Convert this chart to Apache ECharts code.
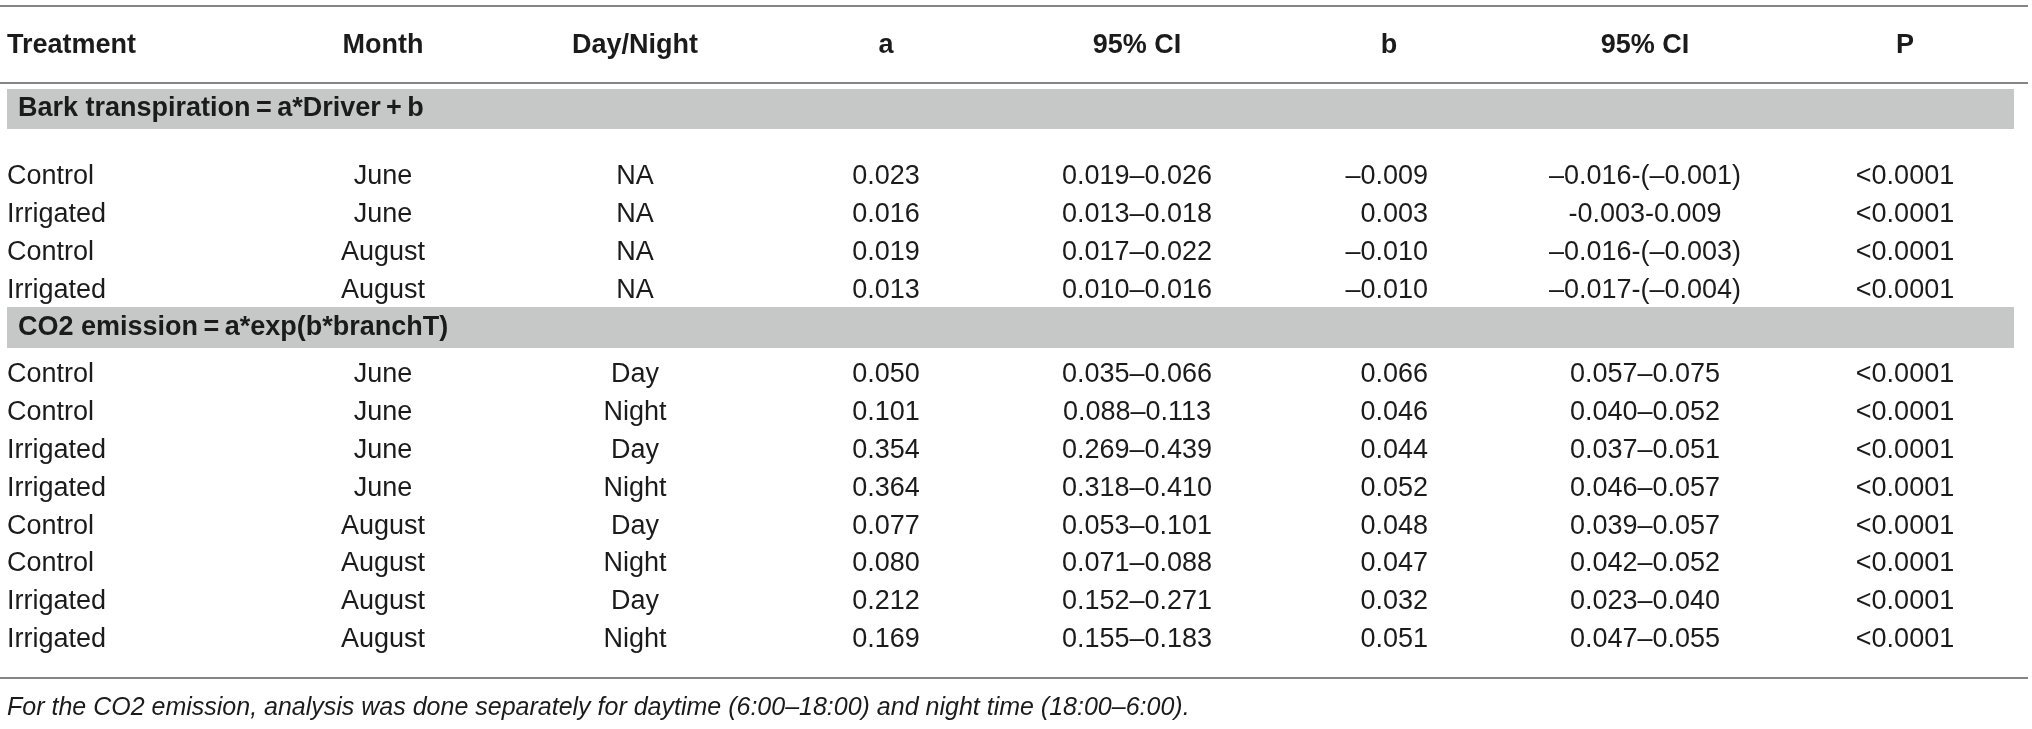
<!DOCTYPE html>
<html><head><meta charset="utf-8">
<script src="https://cdn.jsdelivr.net/npm/echarts@6/dist/echarts.min.js"></script>
<style>html,body{margin:0;padding:0;background:#fff}#c{width:2032px;height:729px}</style>
</head><body><div id="c"></div>
<script>
// ---- data ----
const headers = ['Treatment', 'Month', 'Day/Night', 'a', '95% CI', 'b', '95% CI', 'P'];
const sectionTitles = ['Bark transpiration\u2009=\u2009a*Driver\u2009+\u2009b', 'CO2 emission\u2009=\u2009a*exp(b*branchT)'];
const sectionRowCounts = [4, 8];
const treatment = ['Control','Irrigated','Control','Irrigated','Control','Control','Irrigated','Irrigated','Control','Control','Irrigated','Irrigated'];
const month = ['June','June','August','August','June','June','June','June','August','August','August','August'];
const dayNight = ['NA','NA','NA','NA','Day','Night','Day','Night','Day','Night','Day','Night'];
const aValue = ['0.023','0.016','0.019','0.013','0.050','0.101','0.354','0.364','0.077','0.080','0.212','0.169'];
const aCI = ['0.019–0.026','0.013–0.018','0.017–0.022','0.010–0.016','0.035–0.066','0.088–0.113','0.269–0.439','0.318–0.410','0.053–0.101','0.071–0.088','0.152–0.271','0.155–0.183'];
const bValue = ['–0.009','0.003','–0.010','–0.010','0.066','0.046','0.044','0.052','0.048','0.047','0.032','0.051'];
const bCI = ['–0.016-(–0.001)','-0.003-0.009','–0.016-(–0.003)','–0.017-(–0.004)','0.057–0.075','0.040–0.052','0.037–0.051','0.046–0.057','0.039–0.057','0.042–0.052','0.023–0.040','0.047–0.055'];
const pValue = ['<0.0001','<0.0001','<0.0001','<0.0001','<0.0001','<0.0001','<0.0001','<0.0001','<0.0001','<0.0001','<0.0001','<0.0001'];
const footnote = 'For the CO2 emission, analysis was done separately for daytime (6:00–18:00) and night time (18:00–6:00).';

// ---- layout (not data) ----
const W = 2032, H = 729;
const FONT = '"Liberation Sans", Arial, Helvetica, sans-serif';
const TXT = '#1b1b1b';
const headX = [7, 383, 635, 886, 1137, 1389, 1645, 1905];
const headAlign = ['left','center','center','center','center','center','center','center'];
const valX = [7, 383, 635, 886, 1137, 1428, 1645, 1905];
const valAlign = ['left','center','center','center','center','right','center','center'];
const headerY = 46;
const bandY = [[89, 129], [307, 348]];
const sectionStartY = [177, 375];
const rowStep = 37.8;
const rulesY = [6, 83, 678];
const footY = 708;

const columns = [treatment, month, dayNight, aValue, aCI, bValue, bCI, pValue];

const cells = [];
headers.forEach((h, i) => cells.push({x: headX[i], y: headerY, text: h, align: headAlign[i], font: 'bold 27px ' + FONT}));
let r = 0;
sectionTitles.forEach((t, s) => {
  cells.push({x: 18, y: (bandY[s][0] + bandY[s][1]) / 2, text: t, align: 'left', font: 'bold 27px ' + FONT});
  for (let k = 0; k < sectionRowCounts[s]; k++, r++) {
    const y = sectionStartY[s] + k * rowStep;
    columns.forEach((col, c) => cells.push({x: valX[c], y: y, text: col[r], align: valAlign[c], font: '27px ' + FONT}));
  }
});
cells.push({x: 7, y: footY, text: footnote, align: 'left', font: 'italic 25px ' + FONT});

const decor = [];
bandY.forEach(b => decor.push({kind: 'rect', x0: 7, x1: 2014, y0: b[0], y1: b[1]}));
rulesY.forEach(y => decor.push({kind: 'line', x0: 0, x1: 2028, y0: y, y1: y}));

const chart = echarts.init(document.getElementById('c'), null, {renderer: 'canvas'});
chart.setOption({
  animation: false,
  backgroundColor: '#ffffff',
  grid: {left: 0, right: 0, top: 0, bottom: 0},
  xAxis: {type: 'value', min: 0, max: W, show: false},
  yAxis: {type: 'value', min: 0, max: H, inverse: true, show: false},
  series: [
    {
      type: 'custom', clip: false, silent: true, z: 1,
      data: decor.map(d => [d.x0, d.y0]),
      renderItem: (params, api) => {
        const d = decor[params.dataIndex];
        const p0 = api.coord([d.x0, d.y0]);
        const p1 = api.coord([d.x1, d.y1]);
        if (d.kind === 'rect') {
          return {type: 'rect', shape: {x: p0[0], y: p0[1], width: p1[0] - p0[0], height: p1[1] - p0[1]}, style: {fill: '#c6c7c7'}};
        }
        return {type: 'line', shape: {x1: p0[0], y1: p0[1], x2: p1[0], y2: p1[1]}, style: {stroke: '#858585', lineWidth: 2}};
      }
    },
    {
      type: 'custom', clip: false, silent: true, z: 2,
      data: cells.map(c => [c.x, c.y]),
      renderItem: (params, api) => {
        const c = cells[params.dataIndex];
        const p = api.coord([c.x, c.y]);
        return {type: 'text', x: p[0], y: p[1], style: {text: c.text, font: c.font, fill: TXT, align: c.align, verticalAlign: 'middle'}};
      }
    }
  ]
});
</script>
</body></html>
